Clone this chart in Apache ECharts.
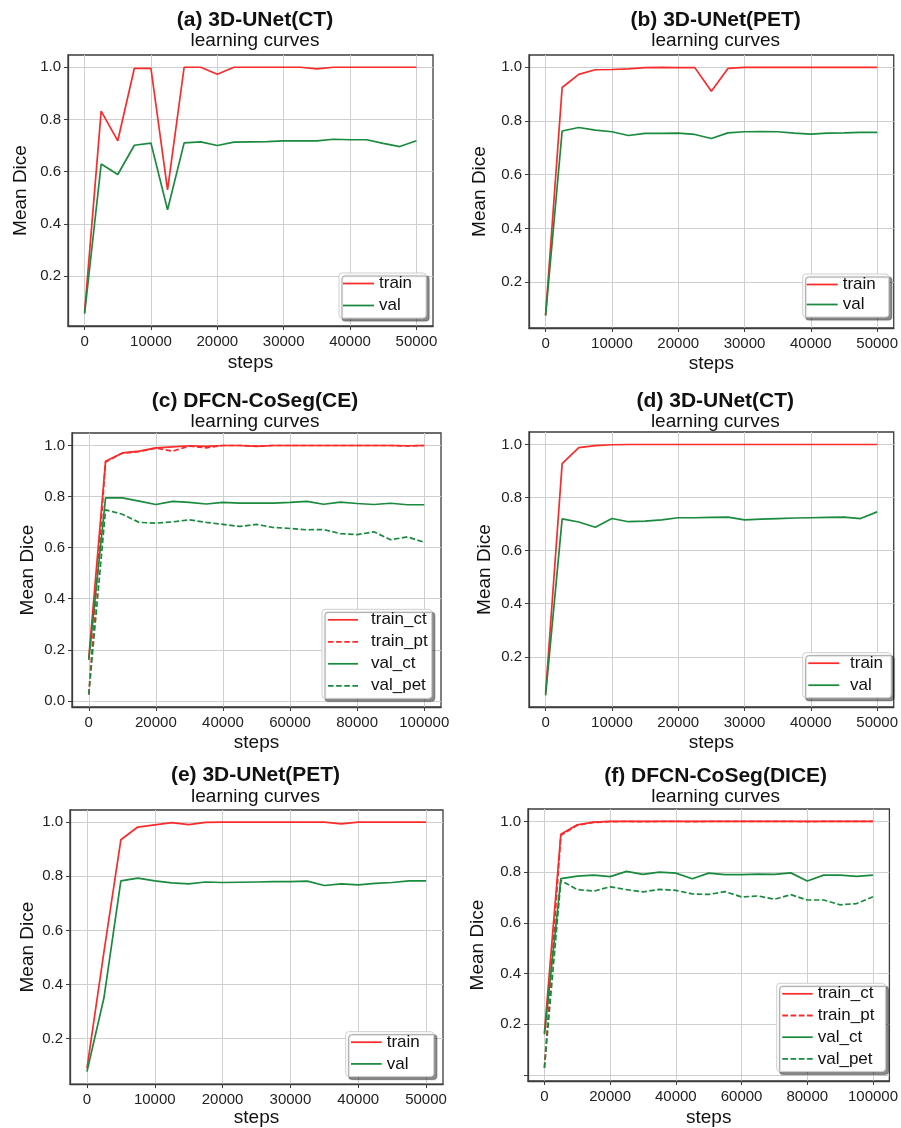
<!DOCTYPE html>
<html><head><meta charset="utf-8">
<script src="https://cdn.jsdelivr.net/npm/echarts@6/dist/echarts.min.js"></script>
<style>html,body{margin:0;padding:0;background:#fff}#c{width:901px;height:1128px}</style>
</head><body><div id="c"></div>
<script>
// ---------- data ----------
const steps50k = [0,2500,5000,7500,10000,12500,15000,17500,20000,22500,25000,27500,30000,32500,35000,37500,40000,42500,45000,47500,50000];
const steps100k = [0,5000,10000,15000,20000,25000,30000,35000,40000,45000,50000,55000,60000,65000,70000,75000,80000,85000,90000,95000,100000];
const xTicks50k = [0,10000,20000,30000,40000,50000];
const xTicks100k = [0,20000,40000,60000,80000,100000];
const yTicks = [0.2,0.4,0.6,0.8,1.0];
const yTicksZero = [0.0,0.2,0.4,0.6,0.8,1.0];

const titles = ['(a) 3D-UNet(CT)','(b) 3D-UNet(PET)','(c) DFCN-CoSeg(CE)','(d) 3D-UNet(CT)','(e) 3D-UNet(PET)','(f) DFCN-CoSeg(DICE)'];
const subtitle = 'learning curves';
const xName = 'steps';
const yName = 'Mean Dice';

const aTrain = [0.06,0.832,0.718,0.996,0.996,0.530,1.0,1.0,0.973,1.0,1.0,1.0,1.0,1.0,0.994,1.0,1.0,1.0,1.0,1.0,1.0];
const aVal   = [0.055,0.629,0.589,0.701,0.709,0.454,0.710,0.714,0.700,0.713,0.714,0.715,0.718,0.718,0.718,0.724,0.722,0.722,0.708,0.696,0.718];

const bTrain = [0.077,0.925,0.974,0.991,0.992,0.994,0.999,1.0,0.999,0.999,0.911,0.996,1.0,1.0,1.0,1.0,1.0,1.0,1.0,1.0,1.0];
const bVal   = [0.075,0.763,0.776,0.766,0.760,0.746,0.754,0.754,0.755,0.750,0.735,0.756,0.760,0.761,0.760,0.755,0.751,0.755,0.756,0.758,0.758];

const cTrainCt = [0.168,0.938,0.971,0.978,0.991,0.995,0.999,0.997,1.0,1.0,0.997,1.0,1.0,1.0,1.0,1.0,1.0,1.0,1.0,0.999,1.0];
const cTrainPt = [0.025,0.935,0.970,0.976,0.990,0.978,0.998,0.991,1.0,1.0,0.998,1.0,1.0,1.0,1.0,1.0,1.0,1.0,1.0,0.998,1.0];
const cValCt   = [0.16,0.795,0.795,0.782,0.769,0.781,0.777,0.771,0.777,0.774,0.774,0.774,0.777,0.781,0.770,0.778,0.773,0.769,0.774,0.768,0.768];
const cValPet  = [0.025,0.748,0.731,0.699,0.696,0.701,0.709,0.699,0.691,0.683,0.691,0.679,0.675,0.670,0.671,0.655,0.651,0.662,0.631,0.642,0.621];

const dTrain = [0.063,0.928,0.988,0.996,0.999,1.0,1.0,1.0,1.0,1.0,1.0,1.0,1.0,1.0,1.0,1.0,1.0,1.0,1.0,1.0,1.0];
const dVal   = [0.055,0.720,0.708,0.688,0.721,0.709,0.711,0.716,0.724,0.724,0.725,0.726,0.716,0.719,0.721,0.723,0.724,0.725,0.726,0.721,0.746];

const eTrain = [0.09,0.52,0.935,0.982,0.990,0.998,0.991,0.999,1.0,1.0,1.0,1.0,1.0,1.0,1.0,0.994,1.0,1.0,1.0,1.0,1.0];
const eVal   = [0.078,0.35,0.783,0.793,0.783,0.776,0.772,0.779,0.777,0.778,0.779,0.780,0.780,0.782,0.766,0.772,0.768,0.774,0.777,0.783,0.783];

const fTrainCt = [0.166,0.949,0.987,0.997,1.0,1.0,1.0,1.0,1.0,1.0,1.0,1.0,1.0,1.0,1.0,1.0,1.0,1.0,1.0,1.0,1.0];
const fTrainPt = [0.028,0.945,0.985,0.996,0.999,1.0,0.999,1.0,1.0,0.999,1.0,1.0,1.0,1.0,1.0,1.0,0.999,1.0,1.0,1.0,1.0];
const fValCt   = [0.16,0.774,0.784,0.788,0.782,0.803,0.791,0.800,0.796,0.774,0.796,0.790,0.790,0.792,0.791,0.797,0.765,0.788,0.788,0.783,0.788];
const fValPet  = [0.028,0.767,0.731,0.725,0.742,0.731,0.722,0.732,0.728,0.714,0.712,0.723,0.702,0.706,0.693,0.711,0.690,0.690,0.671,0.676,0.703];

// ---------- styling / layout ----------
const FONT = '"Liberation Sans", Arial, Helvetica, sans-serif';
const RED = '#fb2b2b', GREEN = '#1a8a3e';
const DASH = [5.5, 2.5];
const ICON_SOLID = 'path://M0,0H30V1.7H0Z';
const ICON_DASH = 'path://M0,0H5.5V1.7H0Z M8,0H13.5V1.7H8Z M16,0H21.5V1.7H16Z M24,0H29.5V1.7H24Z';

const panels = [
  {steps: steps50k, xTicks: xTicks50k, yTicks: yTicks, yTickMarks: yTicks, xr:[-2500,52500], yr:[0.008,1.047],
   grid:[68,55,365,271], t:[255,20], s:[255,41], yGap:38, xGap:27,
   lg:{left:339, top:273, pad:[2,14,4,4], gap:5, iw:31, tp:0},
   series:[{name:'train', data:aTrain, c:RED}, {name:'val', data:aVal, c:GREEN}]},
  {steps: steps50k, xTicks: xTicks50k, yTicks: yTicks, yTickMarks: yTicks, xr:[-2500,52500], yr:[0.029,1.046],
   grid:[529,55,368,273], t:[715.7,20], s:[715.7,41], yGap:40, xGap:26,
   lg:{left:802.7, top:274, pad:[2,13,4,4], gap:3, iw:31, tp:0},
   series:[{name:'train', data:bTrain, c:RED}, {name:'val', data:bVal, c:GREEN}]},
  {steps: steps100k, xTicks: xTicks100k, yTicks: yTicksZero, yTickMarks: yTicksZero, xr:[-5000,105000], yr:[-0.024,1.049],
   grid:[72,433,369,274], t:[255,401.7], s:[255,421.7], yGap:35, xGap:26,
   lg:{left:322, top:609.3, pad:[2,4,4,6], gap:5, iw:30, tp:8},
   series:[{name:'train_ct', data:cTrainCt, c:RED}, {name:'train_pt', data:cTrainPt, c:RED, dash:true},
           {name:'val_ct', data:cValCt, c:GREEN}, {name:'val_pet', data:cValPet, c:GREEN, dash:true}]},
  {steps: steps50k, xTicks: xTicks50k, yTicks: yTicks, yTickMarks: yTicks, xr:[-2500,52500], yr:[0.011,1.047],
   grid:[529,432,369,275], t:[715.3,401.7], s:[715.3,421.7], yGap:35, xGap:26,
   lg:{left:802.7, top:652.7, pad:[2,8,4,5.6], gap:5, iw:31, tp:5.7},
   series:[{name:'train', data:dTrain, c:RED}, {name:'val', data:dVal, c:GREEN}]},
  {steps: steps50k, xTicks: xTicks50k, yTicks: yTicks, yTickMarks: yTicks, xr:[-2500,52500], yr:[0.032,1.045],
   grid:[70,810,373,276], t:[255.5,775], s:[255.5,796.7], yGap:33, xGap:22,
   lg:{left:345.7, top:1031.7, pad:[2,14,4,5.3], gap:4.7, iw:30.7, tp:0},
   series:[{name:'train', data:eTrain, c:RED}, {name:'val', data:eVal, c:GREEN}]},
  {steps: steps100k, xTicks: xTicks100k, yTicks: yTicks, yTickMarks: yTicksZero, xr:[-5000,105000], yr:[-0.024,1.049],
   grid:[528,809,366,272], t:[715.7,776.7], s:[715.7,796.7], yGap:41, xGap:27,
   lg:{left:776.7, top:983.3, pad:[2,11,4,5.6], gap:4.7, iw:30.4, tp:0},
   series:[{name:'train_ct', data:fTrainCt, c:RED}, {name:'train_pt', data:fTrainPt, c:RED, dash:true},
           {name:'val_ct', data:fValCt, c:GREEN}, {name:'val_pet', data:fValPet, c:GREEN, dash:true}]}
];

const option = {animation:false, backgroundColor:'#fff', textStyle:{fontFamily:FONT},
  grid:[], xAxis:[], yAxis:[], series:[], legend:[], graphic:[]};

panels.forEach((p, i) => {
  const [gl, gt, gw, gh] = p.grid;
  option.grid.push({left:gl, top:gt, width:gw, height:gh, show:true, borderColor:'#3c3c3c', borderWidth:1.3, backgroundColor:'#fff', containLabel:false});
  option.xAxis.push({type:'value', gridIndex:i, min:p.xr[0], max:p.xr[1],
    name:xName, nameLocation:'middle', nameGap:p.xGap,
    nameTextStyle:{fontSize:19, color:'#111', fontFamily:FONT},
    axisLine:{show:true, onZero:false, lineStyle:{color:'#3c3c3c', width:1.3}},
    axisTick:{show:true, customValues:p.xTicks, length:4, lineStyle:{color:'#3c3c3c'}},
    axisLabel:{customValues:p.xTicks, fontSize:15, color:'#222', margin:8, fontFamily:FONT, formatter:v=>String(Math.round(v))},
    splitLine:{show:true, lineStyle:{color:'#cfcfcf', width:1}}});
  option.yAxis.push({type:'value', gridIndex:i, min:p.yr[0], max:p.yr[1],
    name:yName, nameLocation:'middle', nameGap:p.yGap, nameRotate:90,
    nameTextStyle:{fontSize:19, color:'#111', fontFamily:FONT},
    axisLine:{show:true, onZero:false, lineStyle:{color:'#3c3c3c', width:1.3}},
    axisTick:{show:true, customValues:p.yTickMarks, length:4, lineStyle:{color:'#3c3c3c'}},
    axisLabel:{customValues:p.yTicks, fontSize:15, color:'#222', margin:7, fontFamily:FONT, formatter:v=>v.toFixed(1)},
    splitLine:{show:true, lineStyle:{color:'#cfcfcf', width:1}}});
  p.series.forEach(s => {
    option.series.push({type:'line', name:s.name, xAxisIndex:i, yAxisIndex:i,
      data:p.steps.map((x, k) => [x, s.data[k]]),
      showSymbol:false, symbol:'none', color:s.c, z:s.dash?3:4,
      lineStyle:{color:s.c, width:1.7, type:s.dash?DASH:'solid'}});
  });
  option.legend.push({orient:'vertical', left:p.lg.left, top:p.lg.top,
    data:p.series.map(s=>({name:s.name, icon:s.dash?ICON_DASH:ICON_SOLID, itemStyle:{color:s.c}})),
    itemWidth:p.lg.iw, itemHeight:14, itemGap:p.lg.gap, padding:p.lg.pad,
    backgroundColor:'#fff', borderColor:'#cfcfcf', borderWidth:1, borderRadius:3,
    shadowColor:'rgba(0,0,0,0.45)', shadowBlur:1, shadowOffsetX:3, shadowOffsetY:3,
    selectedMode:false,
    textStyle:{fontSize:17, color:'#111', lineHeight:17, fontFamily:FONT, padding:[0,0,0,p.lg.tp]}});
  option.graphic.push({type:'text', x:p.t[0], y:p.t[1], z:10,
    style:{text:titles[i], font:'bold 21px '+FONT, fill:'#111', align:'center', verticalAlign:'middle'}});
  option.graphic.push({type:'text', x:p.s[0], y:p.s[1], z:10,
    style:{text:subtitle, font:'19px '+FONT, fill:'#111', align:'center', verticalAlign:'middle'}});
});

const chart = echarts.init(document.getElementById('c'), null, {renderer:'canvas'});
chart.setOption(option);
</script></body></html>
